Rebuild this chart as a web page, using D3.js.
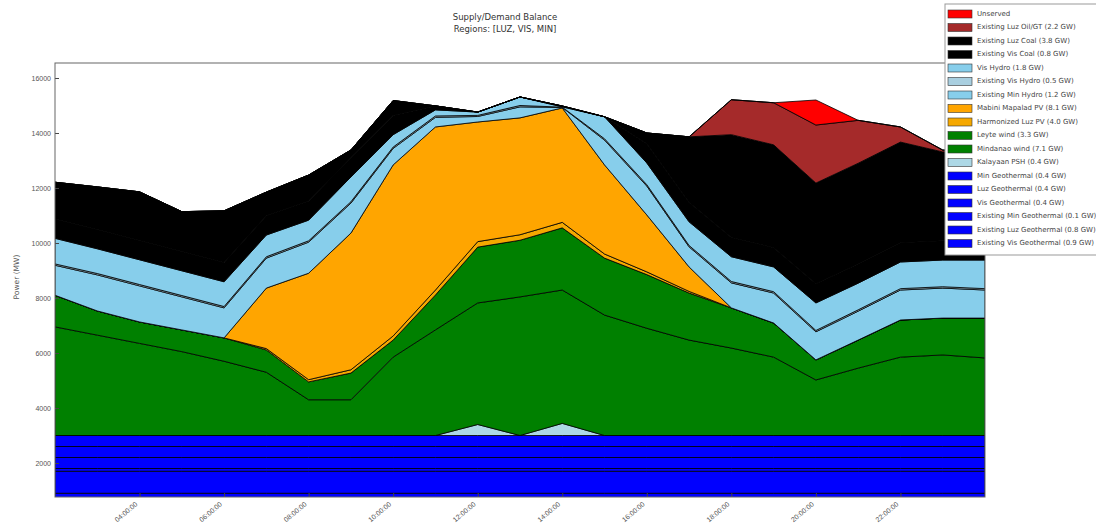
<!DOCTYPE html>
<html>
<head>
<meta charset="utf-8">
<script src="https://cdn.jsdelivr.net/npm/d3@7"></script>
<style>
  body { margin: 0; background: #fff; }
  svg { display: block; font-family: "DejaVu Sans", sans-serif; }
</style>
</head>
<body>
<svg id="chart" width="1096" height="528"></svg>
<script>
// ---------- data ----------
const hours = [2, 3, 4, 5, 6, 7, 8, 9, 10, 11, 12, 13, 14, 15, 16, 17, 18, 19, 20, 21, 22, 23, 24];
const tickHours = [4, 6, 8, 10, 12, 14, 16, 18, 20, 22];
const tickLabels = ["04:00:00", "06:00:00", "08:00:00", "10:00:00", "12:00:00",
  "14:00:00", "16:00:00", "18:00:00", "20:00:00", "22:00:00"];
const yTicks = [2000, 4000, 6000, 8000, 10000, 12000, 14000, 16000];

// stacked from the bottom up (MW)
const existingVisGeo = [900, 900, 900, 900, 900, 900, 900, 900, 900, 900, 900, 900, 900, 900, 900, 900, 900, 900, 900, 900, 900, 900, 900];
const existingLuzGeo = [800, 800, 800, 800, 800, 800, 800, 800, 800, 800, 800, 800, 800, 800, 800, 800, 800, 800, 800, 800, 800, 800, 800];
const existingMinGeo = [100, 100, 100, 100, 100, 100, 100, 100, 100, 100, 100, 100, 100, 100, 100, 100, 100, 100, 100, 100, 100, 100, 100];
const visGeo = [400, 400, 400, 400, 400, 400, 400, 400, 400, 400, 400, 400, 400, 400, 400, 400, 400, 400, 400, 400, 400, 400, 400];
const luzGeo = [400, 400, 400, 400, 400, 400, 400, 400, 400, 400, 400, 400, 400, 400, 400, 400, 400, 400, 400, 400, 400, 400, 400];
const minGeo = [400, 400, 400, 400, 400, 400, 400, 400, 400, 400, 400, 400, 400, 400, 400, 400, 400, 400, 400, 400, 400, 400, 400];
const kalayaanPsh = [0, 0, 0, 0, 0, 0, 0, 0, 0, 0, 400, 0, 440, 0, 0, 0, 0, 0, 0, 0, 0, 0, 0];
const mindanaoWind = [3950, 3650, 3350, 3050, 2700, 2300, 1300, 1300, 2850, 3840, 4420, 5040, 4850, 4380, 3900, 3470, 3180, 2850, 2020, 2450, 2850, 2930, 2820];
const leyteWind = [1150, 880, 780, 790, 850, 810, 650, 970, 620, 1270, 2030, 2060, 2260, 2070, 1950, 1710, 1460, 1240, 730, 1020, 1350, 1340, 1450];
const harmonizedPv = [0, 0, 0, 0, 0, 50, 80, 120, 150, 180, 200, 200, 200, 150, 100, 60, 0, 0, 0, 0, 0, 0, 0];
const mabiniPv = [0, 0, 0, 0, 0, 2200, 3870, 4970, 6220, 5930, 4350, 4250, 4160, 3240, 2070, 890, 0, 0, 0, 0, 0, 0, 0];
const existingMinHydro = [1090, 1310, 1310, 1200, 1090, 1090, 1130, 1090, 600, 350, 200, 400, 20, 900, 1050, 730, 910, 1090, 1020, 1050, 1090, 1090, 1020];
const existingVisHydro = [50, 50, 50, 50, 50, 50, 50, 50, 50, 50, 40, 50, 10, 50, 50, 50, 50, 50, 50, 50, 50, 50, 50];
const visHydro = [930, 900, 900, 900, 900, 790, 750, 900, 450, 220, 120, 310, 10, 800, 790, 860, 900, 900, 1000, 970, 970, 970, 1040];
const existingVisCoal = [700, 700, 700, 700, 700, 700, 700, 700, 700, 145, 0, 0, 30, 0, 700, 700, 700, 700, 700, 700, 700, 700, 700];
const existingLuzCoal = [1340, 1550, 1770, 1450, 1880, 860, 940, 280, 540, 0, 0, 0, 0, 0, 390, 2390, 3740, 3740, 3660, 3660, 3660, 3230, 3200];
const existingLuzOilGt = [0, 0, 0, 0, 0, 0, 0, 0, 0, 0, 0, 0, 0, 0, 0, 0, 1270, 1530, 2110, 1560, 550, 70, 0];
const unserved = [0, 0, 0, 0, 0, 0, 0, 0, 0, 0, 0, 0, 0, 0, 0, 0, 0, 0, 910, 0, 0, 0, 0];

const layers = [
  { key: "exVisGeo", label: "Existing Vis Geothermal (0.9 GW)", color: "#0000ff", values: existingVisGeo },
  { key: "exLuzGeo", label: "Existing Luz Geothermal (0.8 GW)", color: "#0000ff", values: existingLuzGeo },
  { key: "exMinGeo", label: "Existing Min Geothermal (0.1 GW)", color: "#0000ff", values: existingMinGeo },
  { key: "visGeo", label: "Vis Geothermal (0.4 GW)", color: "#0000ff", values: visGeo },
  { key: "luzGeo", label: "Luz Geothermal (0.4 GW)", color: "#0000ff", values: luzGeo },
  { key: "minGeo", label: "Min Geothermal (0.4 GW)", color: "#0000ff", values: minGeo },
  { key: "psh", label: "Kalayaan PSH (0.4 GW)", color: "#add8e6", values: kalayaanPsh },
  { key: "minWind", label: "Mindanao wind (7.1 GW)", color: "#008000", values: mindanaoWind },
  { key: "leyWind", label: "Leyte wind (3.3 GW)", color: "#008000", values: leyteWind },
  { key: "harmPv", label: "Harmonized Luz PV (4.0 GW)", color: "#f5a800", values: harmonizedPv },
  { key: "mabPv", label: "Mabini Mapalad PV (8.1 GW)", color: "#ffa500", values: mabiniPv },
  { key: "exMinHydro", label: "Existing Min Hydro (1.2 GW)", color: "#87ceeb", values: existingMinHydro },
  { key: "exVisHydro", label: "Existing Vis Hydro (0.5 GW)", color: "#a9cfe0", values: existingVisHydro },
  { key: "visHydro", label: "Vis Hydro (1.8 GW)", color: "#87ceeb", values: visHydro },
  { key: "exVisCoal", label: "Existing Vis Coal (0.8 GW)", color: "#000000", values: existingVisCoal },
  { key: "exLuzCoal", label: "Existing Luz Coal (3.8 GW)", color: "#000000", values: existingLuzCoal },
  { key: "exLuzOil", label: "Existing Luz Oil/GT (2.2 GW)", color: "#a52a2a", values: existingLuzOilGt },
  { key: "unserved", label: "Unserved", color: "#ff0000", values: unserved }
];

// ---------- layout ----------
const svg = d3.select("#chart");
const plot = { left: 55, right: 985, top: 63, bottom: 497 };

const x = d3.scaleLinear().domain([2, 24]).range([plot.left, plot.right]);
const y = d3.scaleLinear().domain([764, 16545]).range([plot.bottom, plot.top]);

const rows = hours.map((h, i) => {
  const r = { hour: h };
  layers.forEach(l => { r[l.key] = l.values[i]; });
  return r;
});

const series = d3.stack().keys(layers.map(l => l.key))(rows);

svg.append("clipPath").attr("id", "plotClip")
  .append("rect")
  .attr("x", plot.left).attr("y", plot.top)
  .attr("width", plot.right - plot.left).attr("height", plot.bottom - plot.top);

const area = d3.area()
  .x(d => x(d.data.hour))
  .y0(d => y(d[0]))
  .y1(d => y(d[1]));

svg.append("g")
  .attr("clip-path", "url(#plotClip)")
  .selectAll("path")
  .data(series)
  .join("path")
  .attr("d", area)
  .attr("fill", (d, i) => layers[i].color)
  .attr("stroke", "#000")
  .attr("stroke-width", 0.8)
  .attr("stroke-linejoin", "round");

// ---------- axes ----------
const yAxis = d3.axisLeft(y).tickValues(yTicks).tickSize(-4).tickPadding(4)
  .tickFormat(d3.format("d"));
const yg = svg.append("g").attr("transform", `translate(${plot.left},0)`).call(yAxis);
yg.select(".domain").remove();
yg.selectAll("line").attr("stroke", "#444");
yg.selectAll("text").attr("font-size", 7).attr("fill", "#555");

const xAxis = d3.axisBottom(x).tickValues(tickHours).tickSize(-4)
  .tickFormat((d, i) => tickLabels[i]);
const xg = svg.append("g").attr("transform", `translate(0,${plot.bottom})`).call(xAxis);
xg.select(".domain").remove();
xg.selectAll("line").attr("stroke", "#444");
xg.selectAll("text")
  .attr("font-size", 7)
  .attr("fill", "#555")
  .attr("text-anchor", "end")
  .attr("dy", null)
  .attr("y", 0)
  .attr("transform", "translate(-2,8) rotate(-40)");

// frame
svg.append("rect")
  .attr("x", plot.left).attr("y", plot.top)
  .attr("width", plot.right - plot.left).attr("height", plot.bottom - plot.top)
  .attr("fill", "none")
  .attr("stroke", "#666")
  .attr("stroke-width", 1);

// titles
svg.append("text")
  .attr("x", 505).attr("y", 20)
  .attr("text-anchor", "middle")
  .attr("font-size", 8.5).attr("fill", "#333")
  .text("Supply/Demand Balance");
svg.append("text")
  .attr("x", 505).attr("y", 32)
  .attr("text-anchor", "middle")
  .attr("font-size", 8.5).attr("fill", "#333")
  .text("Regions: [LUZ, VIS, MIN]");

svg.append("text")
  .attr("transform", `translate(19,277) rotate(-90)`)
  .attr("text-anchor", "middle")
  .attr("font-size", 7.5).attr("fill", "#555")
  .text("Power (MW)");

// ---------- legend ----------
const legendItems = layers.slice().reverse();
const lg = svg.append("g").attr("transform", "translate(945,4)");
lg.append("rect")
  .attr("width", 170).attr("height", 251)
  .attr("fill", "#fff")
  .attr("stroke", "#999");

const item = lg.selectAll("g.item")
  .data(legendItems)
  .join("g")
  .attr("class", "item")
  .attr("transform", (d, i) => `translate(3,${10 + i * 13.5})`);

item.append("rect")
  .attr("x", 0).attr("y", -4)
  .attr("width", 24).attr("height", 8)
  .attr("fill", d => d.color)
  .attr("stroke", "#333")
  .attr("stroke-width", 0.6);

item.append("text")
  .attr("x", 29).attr("y", 0)
  .attr("dominant-baseline", "middle")
  .attr("font-size", 7).attr("fill", "#444")
  .text(d => d.label);
</script>
</body>
</html>
